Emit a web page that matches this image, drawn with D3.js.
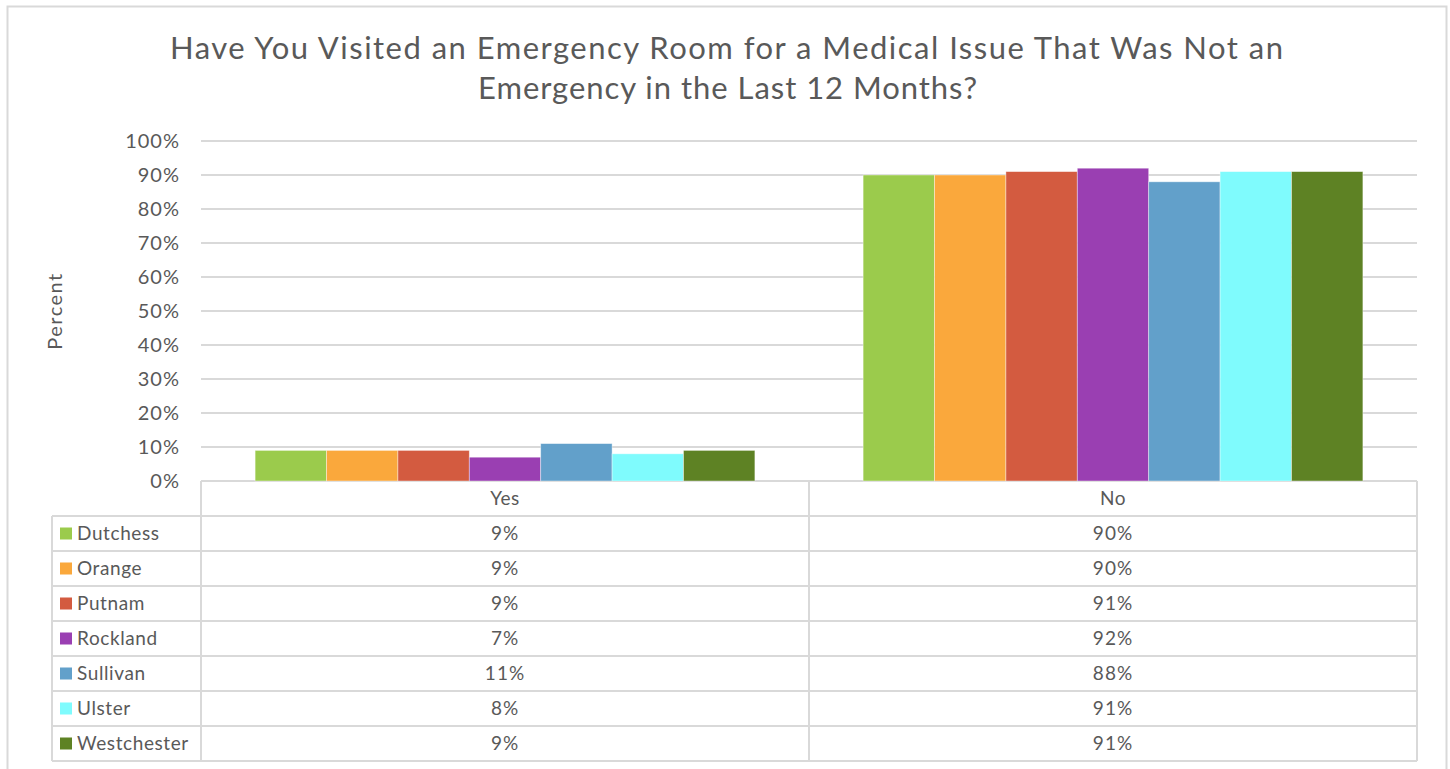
<!DOCTYPE html>
<html><head><meta charset="utf-8">
<script src="https://cdn.jsdelivr.net/npm/d3@7"></script>
<style>body{margin:0;background:#fff;}svg text{font-family:"Lato",sans-serif;fill:#595959;}</style>
</head><body><svg id="c" width="1450" height="769"></svg>
<script>
const categories = ["Yes", "No"];
const seriesNames = ["Dutchess", "Orange", "Putnam", "Rockland", "Sullivan", "Ulster", "Westchester"];
const dutchess = [9, 90];
const orange = [9, 90];
const putnam = [9, 91];
const rockland = [7, 92];
const sullivan = [11, 88];
const ulster = [8, 91];
const westchester = [9, 91];
const yTicks = [0, 10, 20, 30, 40, 50, 60, 70, 80, 90, 100];
const colors = ["#9BCB4C", "#FAA83C", "#D35B40", "#9A3FB2", "#62A0CA", "#7FFBFD", "#5E8224"];
const values = [dutchess, orange, putnam, rockland, sullivan, ulster, westchester];

const svg = d3.select("#c");
svg.append("rect").attr("x",7.5).attr("y",6.5).attr("width",1439).attr("height",780).attr("fill","#fff").attr("stroke","#D9D9D9").attr("stroke-width",2);

svg.append("text").attr("x",170).attr("y",59).attr("font-size",31).attr("textLength",1113).attr("lengthAdjust","spacing").text("Have You Visited an Emergency Room for a Medical Issue That Was Not an");
svg.append("text").attr("x",478).attr("y",99).attr("font-size",31).attr("textLength",499).attr("lengthAdjust","spacing").text("Emergency in the Last 12 Months?");

const L=201, R=1417, T=141, B=481;
const y = d3.scaleLinear().domain([0,100]).range([B,T]);
const x0 = d3.scaleBand().domain(categories).range([L,R]).paddingInner(0.178).paddingOuter(0.089);
const x1 = d3.scaleBand().domain(seriesNames).range([0,x0.bandwidth()]);

const grid = svg.append("g");
yTicks.forEach(t=>{
  grid.append("line").attr("x1",L).attr("x2",R).attr("y1",y(t)).attr("y2",y(t)).attr("stroke","#D9D9D9").attr("stroke-width",2);
});
const yAxis = d3.axisLeft(y).tickValues(yTicks).tickFormat(d=>d+"%").tickSize(0).tickPadding(21);
const ga = svg.append("g").attr("transform",`translate(${L},0)`).call(yAxis);
ga.select(".domain").remove();
ga.selectAll("text").attr("font-size",20).attr("fill","#595959").style("font-family","Lato").style("letter-spacing","1px");

svg.append("text").attr("transform","translate(62,311) rotate(-90)").attr("text-anchor","middle").attr("font-size",20).style("letter-spacing","1.5px").text("Percent");

const bars = svg.append("g");
seriesNames.forEach((s,i)=>{
  categories.forEach((c,j)=>{
    bars.append("rect").attr("x",x0(c)+x1(s)).attr("y",y(values[i][j])).attr("width",x1.bandwidth()).attr("height",B-y(values[i][j]))
      .attr("fill",colors[i]).attr("stroke","#fff").attr("stroke-width",0.8).attr("stroke-opacity",0.5);
  });
});

// data table
const tbl = svg.append("g");
const tl = 52, mid = (L+R)/2;
const lc = "#D9D9D9";
tbl.append("line").attr("x1",L).attr("x2",L).attr("y1",B).attr("y2",761).attr("stroke",lc).attr("stroke-width",2);
tbl.append("line").attr("x1",mid).attr("x2",mid).attr("y1",B).attr("y2",761).attr("stroke",lc).attr("stroke-width",2);
tbl.append("line").attr("x1",R).attr("x2",R).attr("y1",B).attr("y2",761).attr("stroke",lc).attr("stroke-width",2);
tbl.append("line").attr("x1",tl).attr("x2",tl).attr("y1",516).attr("y2",761).attr("stroke",lc).attr("stroke-width",2);
const hy = [516,551,586,621,656,691,726,761];
hy.forEach(v=>tbl.append("line").attr("x1",tl).attr("x2",R).attr("y1",v).attr("y2",v).attr("stroke",lc).attr("stroke-width",2));
categories.forEach(c=>{
  tbl.append("text").attr("x",x0(c)+x0.bandwidth()/2).attr("y",498).attr("dy","0.35em").attr("text-anchor","middle").attr("font-size",19).style("letter-spacing","0.5px").text(c);
});
seriesNames.forEach((s,i)=>{
  const cy = hy[i]+17.5;
  tbl.append("rect").attr("x",60).attr("y",cy-6).attr("width",12).attr("height",12).attr("fill",colors[i]);
  tbl.append("text").attr("x",77).attr("y",cy).attr("dy","0.35em").attr("font-size",19).style("letter-spacing","0.6px").text(s);
  categories.forEach((c,j)=>{
    tbl.append("text").attr("x",x0(c)+x0.bandwidth()/2).attr("y",cy).attr("dy","0.35em").attr("text-anchor","middle").attr("font-size",19).style("letter-spacing","1px").text(values[i][j]+"%");
  });
});
</script></body></html>
